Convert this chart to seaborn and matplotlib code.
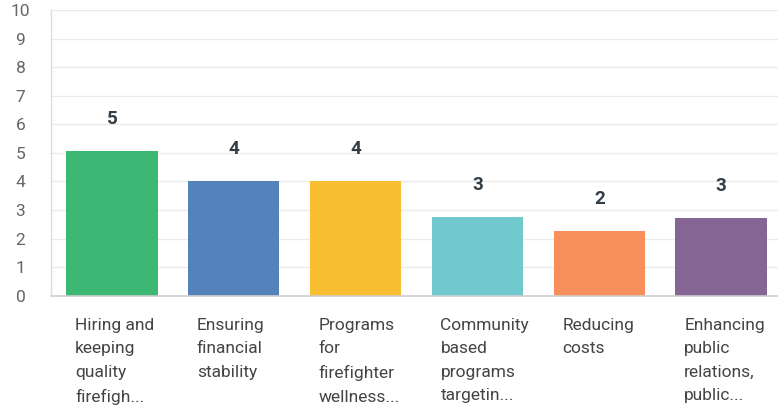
import matplotlib
matplotlib.use("Agg")
import matplotlib.pyplot as plt
import matplotlib.transforms as mtransforms
import seaborn as sns
import pandas as pd

# Survey priorities: mean score per answer option
categories = [
    "Hiring and\nkeeping\nquality\nfirefigh...",
    "Ensuring\nfinancial\nstability",
    "Programs\nfor\nfirefighter\nwellness...",
    "Community\nbased\nprograms\ntargetin...",
    "Reducing\ncosts",
    "Enhancing\npublic\nrelations,\npublic...",
]
scores = [5.07, 4.03, 4.03, 2.75, 2.28, 2.72]
colors = ["#3db874", "#5482bb", "#f9be32", "#72c9cd", "#f68f5b", "#856594"]
y_ticks = list(range(0, 11))

df = pd.DataFrame({"option": categories, "score": scores})

sns.set_theme(style="white")
plt.rcParams["font.family"] = ["Roboto", "DejaVu Sans"]

fig = plt.figure(figsize=(7.78, 4.11), dpi=100)
ax = fig.add_axes([0.0656, 0.2805, 0.9396, 0.695])

sns.barplot(data=df, x="option", y="score", hue="option", palette=colors,
            legend=False, width=0.75, linewidth=0, saturation=1, ax=ax)

ax.set_xlim(-0.5, 5.5)
ax.set_ylim(0, 10)
ax.set_yticks(y_ticks)
ax.set_yticklabels([str(t) for t in y_ticks])
ax.set_xlabel("")
ax.set_ylabel("")

# light horizontal grid behind the bars
ax.set_axisbelow(True)
ax.yaxis.grid(True, color="#ebebeb", linewidth=1)
ax.xaxis.grid(False)

for side in ("top", "right"):
    ax.spines[side].set_visible(False)
ax.spines["left"].set_color("#dddddd")
ax.spines["bottom"].set_color("#cfcfcf")
ax.spines["left"].set_linewidth(1)
ax.spines["bottom"].set_linewidth(1.2)

ax.tick_params(axis="both", length=0)
ax.tick_params(axis="y", pad=22, labelsize=12.5, labelcolor="#666666")
ax.tick_params(axis="x", pad=16, labelsize=12.5, labelcolor="#444444")
for lbl in ax.get_yticklabels():
    lbl.set_horizontalalignment("center")

# category labels start just inside the left edge of each bar
shift = mtransforms.ScaledTranslation(-0.37, 0, fig.dpi_scale_trans)
for lbl in ax.get_xticklabels():
    lbl.set_horizontalalignment("left")
    lbl.set_verticalalignment("top")
    lbl.set_linespacing(1.7)
    lbl.set_transform(lbl.get_transform() + shift)

# value labels above each bar
for i, v in enumerate(scores):
    ax.annotate(f"{v:.0f}", xy=(i, v), xytext=(0, 23), textcoords="offset points",
                ha="center", va="center", fontsize=13.5, fontweight="bold",
                color="#333d47")

fig.savefig("out.png", dpi=100)
